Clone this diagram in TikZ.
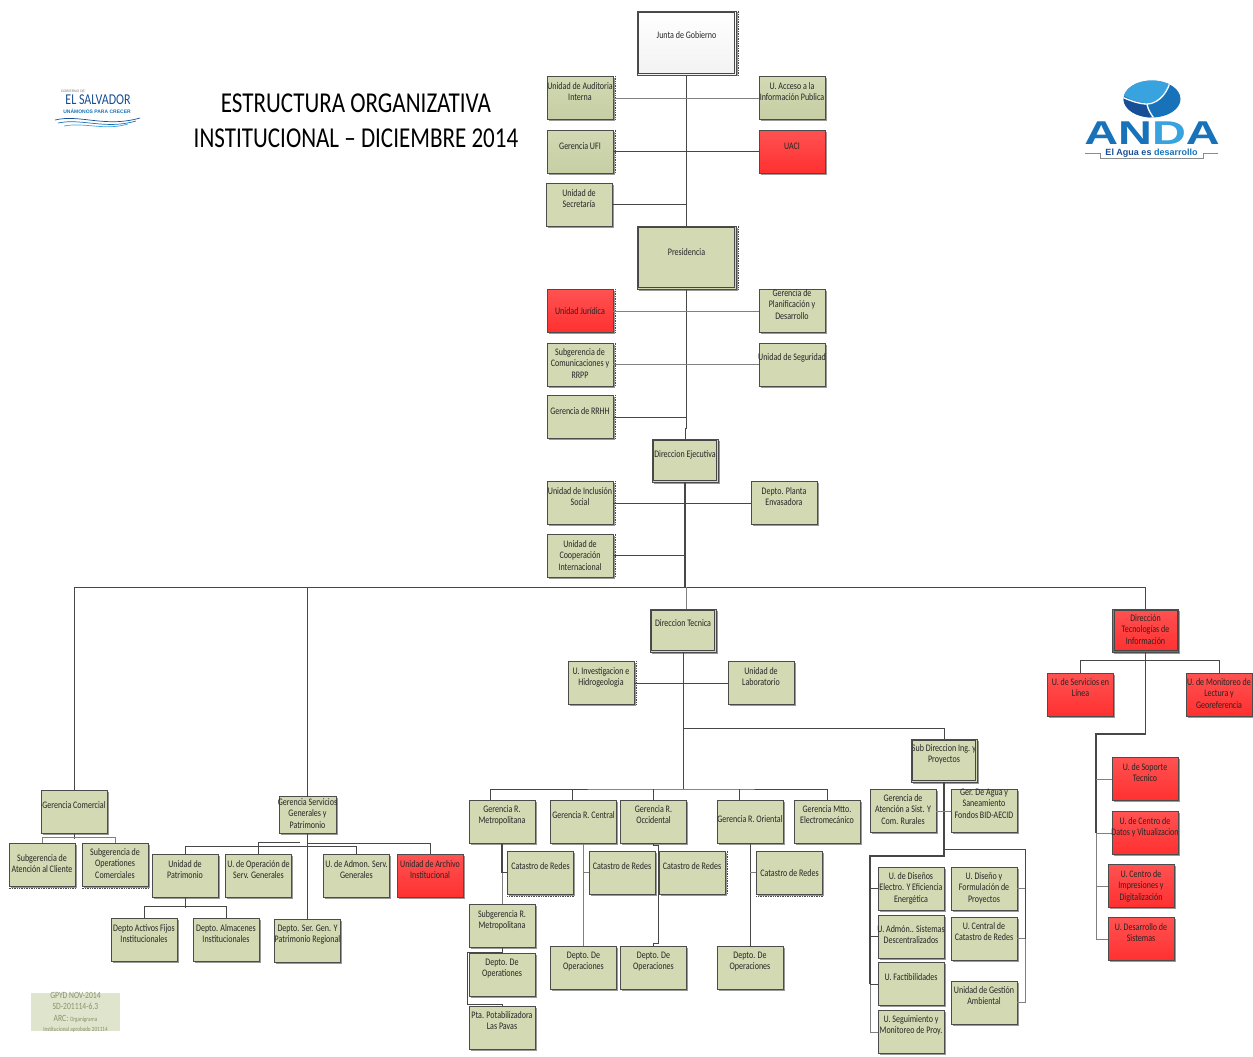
\documentclass[tikz,border=0pt]{standalone}
\usepackage{fontspec}
\setmainfont{Carlito}[FakeStretch=0.8]
\newfontfamily\logofont[FakeStretch=1.42]{Liberation Sans}
\newfontfamily\plainfont{Liberation Sans}
\usetikzlibrary {shadows}

\definecolor{unitgreen}{HTML}{D2D9B3}
\definecolor{unitfade}{HTML}{C6CEA4}
\definecolor{unitred}{HTML}{FF5252}
\definecolor{unitdeep}{HTML}{FF3030}
\definecolor{stampgreen}{HTML}{DFE5CC}
\definecolor{stampink}{HTML}{85936A}
\definecolor{andalight}{HTML}{38A3DF}
\definecolor{andamid}{HTML}{1772BA}
\definecolor{andadark}{HTML}{174E96}

\tikzset{
	unit/.style={draw=black!70, line width=.8pt, fill=unitgreen, text=black!85, minimum width=66, minimum height=43, text width=90pt, inner xsep=-12pt, inner ysep=0pt, align=flush center, text height=0pt, font=\fontsize{10}{11.8}\selectfont, drop shadow={shadow xshift=1.5pt, shadow yshift=-1.5pt, fill=black!50, opacity=.8}},
	redunit/.style={unit, top color=unitred, bottom color=unitdeep},
	fadeunit/.style={unit, top color=unitgreen, bottom color=unitfade},
	line1/.style={text depth=#1pt},
	link/.style={draw=black!72, line width=.8pt},
	heavy/.style={draw=black!72, line width=1.3pt},
	pale/.style={draw=black!50, line width=.9pt},
	edge/.style={draw=black!70, densely dotted, line width=.7pt}
}

\begin{document}
\begin{tikzpicture}[x=1pt, y=-1pt]
	\useasboundingbox (0, 0) rectangle (1253, 1057);

	\node [unit, top color=white, bottom color=black!5, minimum width=99, minimum height=64, line1=8] (junta) at (686.5, 43) {Junta de Gobierno};
	\node [fadeunit, line1=18] (audit) at (580, 98) {Unidad de Auditoria\\Interna};
	\node [fadeunit, line1=18] (acceso) at (792, 98) {U. Acceso a la\\Información Publica};
	\node [fadeunit, line1=5] (ufi) at (580, 151.5) {Gerencia UFI};
	\node [redunit, line1=5] (uaci) at (792, 151.5) {UACI};
	\node [unit, line1=17] (secretaria) at (579, 204.5) {Unidad de\\Secretaría};
	\node [unit, minimum width=99, minimum height=63, line1=5] (presidencia) at (686.5, 257.5) {Presidencia};
	\node [redunit, text height=6pt, text depth=0pt] (juridica) at (580, 311) {Unidad Jurídica};
	\node [unit, line1=30] (planificacion) at (792, 311) {Gerencia de\\Planificación y\\Desarrollo};
	\node [unit, line1=19] (comunicaciones) at (580, 364.5) {Subgerencia de\\Comunicaciones y\\RRPP};
	\node [unit, line1=9] (seguridad) at (792, 364.5) {Unidad de Seguridad};
	\node [unit, line1=6] (rrhh) at (580, 417) {Gerencia de RRHH};
	\node [unit, minimum width=64, line1=7] (ejecutiva) at (685, 460.5) {Direccion Ejecutiva};
	\node [unit, line1=18] (inclusion) at (580, 503) {Unidad de Inclusión\\Social};
	\node [unit, line1=18] (planta) at (784, 503) {Depto. Planta\\Envasadora};
	\node [unit, line1=17] (cooperacion) at (580, 555.5) {Unidad de\\Cooperación\\Internacional};

	\node [unit, line1=9] (tecnica) at (683, 630.5) {Direccion Tecnica};
	\node [redunit, line1=19] (tecnologia) at (1145.5, 630.5) {Dirección\\Tecnologías de\\Información};
	\node [unit, line1=18] (investigacion) at (601, 683) {U. Investigacion e\\Hidrogeologia};
	\node [unit, line1=18] (laboratorio) at (761, 683) {Unidad de\\Laboratorio};
	\node [redunit, line1=19] (servicios) at (1080.5, 694.5) {U. de Servicios en\\Línea};
	\node [redunit, line1=19] (monitoreo) at (1219, 694.5) {U. de Monitoreo de\\Lectura y\\Georeferencia};
	\node [unit, line1=19] (subdireccion) at (944, 760.5) {Sub Direccion Ing. y\\Proyectos};

	\node [unit, line1=8] (comercial) at (74, 812) {Gerencia Comercial};
	\node [unit, line1=7] (subatencion) at (42, 864.5) {Subgerencia de\\Atención al Cliente};
	\node [unit, line1=19] (subops) at (115, 864.5) {Subgerencia de\\Operationes\\Comerciales};
	\node [unit, minimum width=57, minimum height=37, text width=81pt, line1=19] (servgen) at (307.5, 814.5) {Gerencia Servicios\\Generales y\\Patrimonio};
	\node [unit, line1=18] (patrimonio) at (185, 876) {Unidad de\\Patrimonio};
	\node [unit, line1=18] (opserv) at (258.5, 876) {U. de Operación de\\Serv. Generales};
	\node [unit, line1=18] (admonserv) at (356.5, 876) {U. de Admon. Serv.\\Generales};
	\node [redunit, line1=18] (archivo) at (430, 876) {Unidad de Archivo\\Institucional};
	\node [unit, line1=17] (activos) at (144, 939.5) {Depto Activos Fijos\\Institucionales};
	\node [unit, line1=17] (almacenes) at (226, 939.5) {Depto. Almacenes\\Institucionales};
	\node [unit, line1=20] (regional) at (307.5, 941) {Depto. Ser. Gen. Y\\Patrimonio Regional};

	\node [unit, line1=20] (metro) at (502, 822) {Gerencia R.\\Metropolitana};
	\node [unit, line1=8] (central) at (583.5, 822) {Gerencia R. Central};
	\node [unit, line1=20] (occidental) at (653.5, 822) {Gerencia R.\\Occidental};
	\node [unit, line1=0] (oriental) at (750, 822) {Gerencia R. Oriental};
	\node [unit, line1=20] (mtto) at (827, 822) {Gerencia Mtto.\\Electromecánico};
	\node [unit, line1=7] (catastroa) at (540.5, 872.5) {Catastro de Redes};
	\node [unit, line1=7] (catastrob) at (622, 872.5) {Catastro de Redes};
	\node [unit, line1=7] (catastroc) at (692, 872.5) {Catastro de Redes};
	\node [unit, text height=7pt, text depth=0pt] (catastrod) at (789.5, 872.5) {Catastro de Redes};
	\node [unit, line1=18] (submetro) at (502, 926) {Subgerencia R.\\Metropolitana};
	\node [unit, line1=19] (opsmetro) at (502, 974.5) {Depto. De\\Operationes};
	\node [unit, line1=20] (pavas) at (502, 1028) {Pta. Potabilizadora\\Las Pavas};
	\node [unit, line1=20] (opscentral) at (583.5, 968) {Depto. De\\Operaciones};
	\node [unit, line1=20] (opsocc) at (653.5, 968) {Depto. De\\Operaciones};
	\node [unit, line1=20] (opsoriente) at (750, 968) {Depto. De\\Operaciones};

	\node [unit, line1=20] (atencion) at (903, 811) {Gerencia de\\Atención a Sist. Y\\Com. Rurales};
	\node [unit, line1=32] (agua) at (984, 811) {Ger. De Agua y\\Saneamiento\\Fondos BID-AECID};
	\node [unit, line1=19] (disenos) at (911, 888.5) {U. de Diseños\\Electro. Y Eficiencia\\Energética};
	\node [unit, line1=9] (admon) at (911, 936.5) {U. Admón.. Sistemas\\Descentralizados};
	\node [unit, line1=8] (factibilidades) at (911, 984) {U. Factibilidades};
	\node [unit, line1=20] (seguimiento) at (911, 1032) {U. Seguimiento y\\Monitoreo de Proy.};
	\node [unit, line1=19] (formulacion) at (984, 888.5) {U. Diseño y\\Formulación de\\Proyectos};
	\node [unit, line1=19] (catastrocen) at (984, 938.5) {U. Central de\\Catastro de Redes};
	\node [unit, line1=19] (gestion) at (984, 1002.5) {Unidad de Gestión\\Ambiental};
	\node [redunit, line1=18] (soporte) at (1145, 779) {U. de Soporte\\Tecnico};
	\node [redunit, line1=18] (datos) at (1145, 833) {U. de Centro de\\Datos y Vitualizacion};
	\node [redunit, line1=18] (impresiones) at (1141, 886) {U. Centro de\\Impresiones y\\Digitalización};
	\node [redunit, line1=18] (desarrollo) at (1141, 939) {U. Desarrollo de\\Sistemas};

	\foreach \n in {junta, presidencia, ejecutiva, tecnica, tecnologia, subdireccion}
		\draw [link] ([xshift=2pt, yshift=-2pt]\n.north west) rectangle ([xshift=-2pt, yshift=2pt]\n.south east);
	\foreach \n in {junta, audit, ufi, juridica, comunicaciones, rrhh, inclusion, cooperacion, presidencia, investigacion, catastroc}
		\draw [edge] ([xshift=1.5pt]\n.north east) -- ([xshift=1.5pt]\n.south east);
	\foreach \n in {catastroa, catastrod, subatencion, subops}
		\draw [edge] ([yshift=-2pt]\n.south west) -- ([yshift=-2pt]\n.south east);

	\coordinate (jog) at (685, 428);
	\coordinate (bus) at (686, 587);
	\coordinate (busl) at (74, 587);
	\coordinate (busm) at (307.5, 587);
	\coordinate (busr) at (1145.5, 587);
	\coordinate (bustwo) at (683, 789);
	\coordinate (turn) at (683, 728);
	\coordinate (jogm) at (467, 952);
	\coordinate (jogn) at (467, 1004);
	\coordinate (occa) at (658, 845);
	\coordinate (occb) at (658, 943);
	\coordinate (leftbus) at (870, 856);
	\coordinate (rightbus) at (1025, 849);
	\coordinate (itbus) at (1096, 734);

	\draw [link] (junta.south) -- (presidencia.north);
	\draw [pale] (audit.east) -- (acceso.west);
	\draw [link] (ufi.east) -- (uaci.west);
	\draw [link] (secretaria.east) -- (secretaria.east -| junta.south);
	\draw [link] (presidencia.south) |- (jog) -- (ejecutiva.north);
	\draw [pale] (juridica.east) -- (planificacion.west);
	\draw [pale] (comunicaciones.east) -- (seguridad.west);
	\draw [link] (rrhh.east) -- (rrhh.east -| presidencia.south);
	\draw [heavy] (ejecutiva.south) -- (ejecutiva.south |- bus);
	\draw [link] (inclusion.east) -- (planta.west);
	\draw [link] (cooperacion.east) -- (cooperacion.east -| ejecutiva.south);
	\draw [link] (comercial.north) -- (busl) -- (busr) -- (tecnologia.north);
	\draw [link] (busm) -- (servgen.north);
	\draw [pale] (bus) -- (bus |- tecnica.north);

	\draw [link] (tecnica.south) -- (bustwo);
	\draw [link] (investigacion.east) -- (laboratorio.west);
	\draw [link] (turn) -| (subdireccion.north);
	\draw [link] ([xshift=-12pt]metro.north) |- (bustwo) -| (mtto.north);
	\draw [link] ([xshift=-11.5pt]central.north) -- ([xshift=-11.5pt]central.north |- bustwo);
	\draw [link] (occidental.north) -- (occidental.north |- bustwo);
	\draw [link] ([xshift=-11pt]oriental.north) -- ([xshift=-11pt]oriental.north |- bustwo);

	\draw [heavy] (metro.south) -- (metro.south |- catastroa.west) -- (catastroa.west);
	\draw [pale] (metro.south |- catastroa.west) -- (submetro.north);
	\draw [link] (submetro.south) |- (jogm) -- (jogn) -| (pavas.north);
	\draw [pale] (central.south) -- (opscentral.north);
	\draw [pale] (catastrob.west) -- (catastrob.west -| central.south);
	\draw [link] (occidental.south) |- (occa) -- (occb) -| (opsocc.north);
	\draw [heavy] (catastroc.west) -- (catastroc.west -| occa);
	\draw [link] (oriental.south) -- (opsoriente.north);
	\draw [pale] (catastrod.west) -- (catastrod.west -| oriental.south);

	\draw [heavy] (subdireccion.south) |- (leftbus) -- (leftbus |- factibilidades.west);
	\draw [pale] (leftbus |- factibilidades.west) |- (seguimiento.west);
	\draw [pale] (atencion.east) -- (agua.west);
	\foreach \n in {disenos, admon, factibilidades}
		\draw [link] (\n.west) -- (\n.west -| leftbus);
	\draw [link] (rightbus -| subdireccion.south) -- (rightbus) -- (rightbus |- catastrocen.east);
	\draw [pale] (rightbus |- catastrocen.east) |- (gestion.east);
	\foreach \n in {formulacion, catastrocen}
		\draw [pale] (\n.east) -- (\n.east -| rightbus);

	\draw [heavy] (tecnologia.south) |- (itbus) -- (itbus |- datos.west);
	\draw [pale] (itbus |- datos.west) |- (desarrollo.west);
	\draw [link] (servicios.north) -- ++(0, -12) -| (monitoreo.north);
	\foreach \n in {soporte, datos, impresiones}
		\draw [pale] (\n.west) -- (\n.west -| itbus);

	\draw [link] (comercial.south) -- ++(0, 5);
	\draw [pale] (subatencion.north) -- ++(0, -5) -| (subops.north);
	\draw [link] (servgen.south) -- (regional.north);
	\draw [link] (patrimonio.north) -- ++(0, -8) -| (admonserv.north);
	\draw [link] (opserv.north) -- ++(0, -12) -- ++(41.5, 0);
	\draw [link] (servgen.south) ++(0, 10) -| (archivo.north);
	\draw [link] (patrimonio.south) -- ++(0, 10);
	\draw [link] (activos.north) -- ++(0, -11) -| (almacenes.north);

	\node [align=center, inner sep=0pt, font=\fontsize{28.8}{35.5}\selectfont] (title) at (356, 121) {ESTRUCTURA ORGANIZATIVA\\INSTITUCIONAL -- DICIEMBRE 2014};

	\node [fill=stampgreen, minimum width=89, minimum height=38, inner sep=0pt] (stampbox) at (75.5, 1012) {};
	\node [align=center, inner sep=0pt, text=stampink, font=\fontsize{9.5}{11.5}\selectfont] (stamp) at (75.5, 1012) {GPYD NOV-2014\\SD-201114-6.3\\ARC: {\fontsize{6.5}{8}\selectfont Organigrama}\\[-1.5pt]{\fontsize{6.5}{7}\selectfont Institucional aprobado 201114}};

	\node [inner sep=0pt, text=black!55, font=\plainfont\fontsize{3.4}{4}\selectfont] (gobierno) at (73, 91) {GOBIERNO DE};
	\node [inner sep=0pt, text=andadark, font=\fontsize{15}{16}\selectfont] (salvador) at (98, 100) {EL SALVADOR};
	\node [inner sep=0pt, text=andamid, font=\plainfont\bfseries\fontsize{5}{6}\selectfont] (unamonos) at (97, 111) {UNÁMONOS PARA CRECER};
	\draw [andadark, line width=.7pt] (55, 120) .. controls (80, 114) and (105, 128) .. (140, 118);
	\draw [andamid, line width=.7pt] (58, 123) .. controls (82, 118) and (105, 130) .. (136, 121);
	\draw [andalight, line width=.7pt] (64, 126) .. controls (85, 122) and (105, 131) .. (128, 124);

	\begin{scope}
		\clip (1152, 99) ellipse [x radius=28.5, y radius=18.5];
		\fill [andamid] (1120, 75) rectangle (1185, 125);
		\fill [andalight] (1120, 75) -- (1172, 75) -- (1168, 86) .. controls (1165, 97) and (1155, 103) .. (1148, 103) .. controls (1140, 103) and (1130, 100) .. (1123, 95) -- cycle;
		\fill [andadark] (1120, 97) .. controls (1132, 102) and (1140, 105) .. (1146, 105) .. controls (1147, 110) and (1150, 114) .. (1153, 122) -- (1120, 122) -- cycle;
		\draw [white, line width=1.3pt] (1170, 82) .. controls (1166, 97) and (1155, 104) .. (1147, 104) .. controls (1140, 104) and (1130, 101) .. (1120, 96);
		\draw [white, line width=1.3pt] (1147, 104) .. controls (1148, 110) and (1151, 114) .. (1155, 120);
	\end{scope}
	\node [inner sep=0pt, font=\logofont\bfseries\fontsize{33}{33}\selectfont] (anda) at (1152, 133) {\textcolor{andamid}{A}\textcolor{andamid}{N}\textcolor{andalight}{D}\textcolor{andamid}{A}};
	\node [inner sep=0pt, font=\plainfont\bfseries\fontsize{9}{10}\selectfont] (lema) at (1151.5, 153) {\textcolor{andadark}{El Agua es} \textcolor{andamid}{desarrollo}};
	\draw [black!45, line width=.5pt] (1085, 153) -- (1100, 153) -- (1100, 158) -- (1203, 158) -- (1203, 153) -- (1218, 153);
\end{tikzpicture}
\end{document}
